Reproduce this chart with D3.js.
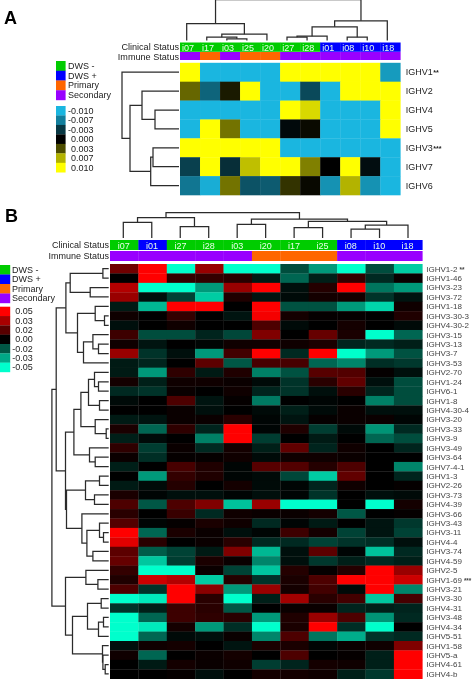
<!DOCTYPE html>
<html><head><meta charset="utf-8">
<script src="https://cdn.jsdelivr.net/npm/d3@7/dist/d3.min.js"></script>
<style>html,body{margin:0;padding:0;background:#fff}svg{display:block;filter:blur(0.35px)}text{font-family:"Liberation Sans",Arial,sans-serif}</style>
</head><body><div id="chart"></div>
<script>
// ---------- Panel A data ----------
const colsA = ["i07","i17","i03","i25","i20","i27","i28","i01","i08","i10","i18"];
const clinicalA = ["DWS -","DWS -","DWS -","DWS -","DWS -","DWS -","DWS -","DWS +","DWS +","DWS +","DWS +"];
const immuneA = ["Secondary","Primary","Secondary","Primary","Primary","Secondary","Secondary","Secondary","Secondary","Secondary","Secondary"];
const rowsA = ["IGHV1","IGHV2","IGHV4","IGHV5","IGHV3","IGHV7","IGHV6"];
const starsA = ["**","","","","***","",""];
// values in thousandths
const heatA = [
 [10,-10,-10,-10,-10,10,10,10,10,10,-8.5],
 [4,-5.5,1,10,-10,-10,-4,-10,10,10,10],
 [-10,-10,-10,-10,-10,10,8.5,-10,-10,-10,10],
 [-10,10,4.5,-10,-10,-.5,.4,-10,-10,-10,10],
 [10,10,10,10,10,-10,-10,-10,-10,-10,-10],
 [-3.5,10,-2.5,7.5,10,10,5,0,10,-.7,-10],
 [-6.5,-9.5,4.5,-4.5,-5,2,.3,-8,7,-8,-10]
];
const legendA = [-10,-7,-3,0,3,7,10];
const legendALabels = ["-0.010","-0.007","-0.003","0.000","0.003","0.007","0.010"];
// dendrograms: [mergeHeight, childA, childB]; leaves are names
const treeTopA = [41,
  [17,"i07",[6.3,[3.3,"i17",[1.7,"i03","i25"]],"i20"]],
  [19.7,[13.7,[4.3,[3.3,"i27","i28"],"i01"],[3.3,"i08","i10"]],"i18"]];
const treeRowA = [57,"IGHV1",
  [49,[37,"IGHV2",[24,"IGHV4","IGHV5"]],
      [28.3,[26,"IGHV3","IGHV7"],"IGHV6"]]];

// ---------- Panel B data ----------
const colsB = ["i07","i01","i27","i28","i03","i20","i17","i25","i08","i10","i18"];
const clinicalB = ["DWS -","DWS +","DWS -","DWS -","DWS -","DWS -","DWS -","DWS -","DWS +","DWS +","DWS +"];
const immuneB = ["Secondary","Secondary","Secondary","Secondary","Secondary","Primary","Primary","Primary","Secondary","Secondary","Secondary"];
const rowsB = ["IGHV1-2","IGHV1-46","IGHV3-23","IGHV3-72","IGHV1-18","IGHV3-30-3","IGHV4-30-2","IGHV3-15","IGHV3-13","IGHV3-7","IGHV3-53",
 "IGHV2-70","IGHV1-24","IGHV6-1","IGHV1-8","IGHV4-30-4","IGHV3-20","IGHV3-33","IGHV3-9","IGHV3-49","IGHV3-64","IGHV7-4-1",
 "IGHV1-3","IGHV2-26","IGHV3-73","IGHV4-39","IGHV3-66","IGHV3-43","IGHV3-11","IGHV4-4","IGHV3-74","IGHV4-59","IGHV2-5",
 "IGHV1-69","IGHV3-21","IGHV3-30","IGHV4-31","IGHV3-48","IGHV4-34","IGHV5-51","IGHV1-58","IGHV5-a","IGHV4-61","IGHV4-b"];
const starsB = {"IGHV1-2":"**","IGHV1-69":"***"};
// values in hundredths
const heatB = [
 [2.2,5,-5,3,-5,-5,-1.5,-3,-5,-1.5,-4],
 [0,5,1,1,.8,-.5,-2,-.6,1,-.8,.2],
 [3.5,-5,-5,-3,3,5,-.3,.7,5,-2.3,-3],
 [3,-.3,-1.3,-4,.6,-.4,-.2,.4,.4,-1,-.4],
 [-.5,-3.6,5,5,0,5,-1.6,-1.6,-3,-4.2,.3],
 [.3,0,1,0,-.4,4.8,.4,.1,.1,0,.6],
 [-.3,0,.3,0,0,1.5,-.2,0,.4,0,-.2],
 [1.2,-1.5,-1.5,-.7,-1.4,2.5,0,2,.5,-5,-2],
 [.3,-.4,0,-.1,.3,.3,.3,.5,-.7,-.8,-.6],
 [3,-1,-.3,-3,1.3,5,-.8,5,-5,-3,-1.6],
 [-.5,-.7,0,1.8,-1.7,1.4,1.4,-2,-2.6,-.9,-1.1],
 [-.5,-3,.9,-.5,.6,-2.5,-1.6,1.7,1.6,.1,-.3],
 [.4,-.6,.3,.3,.2,-.2,-1,.8,1.9,-.3,-1.5],
 [-.8,-1,.2,0,.3,-.7,-1,-.3,.8,-.7,-1.5],
 [-.2,0,1.5,-.4,.1,-2.4,0,-.1,0,-2.5,-1.5],
 [0,0,.2,-.3,0,-.2,-.6,-.2,.2,-.3,-.3],
 [-.5,-.4,.2,.2,.8,-.1,-.4,.1,.2,.2,-.1],
 [.5,-2,.9,-.7,5,-.1,.6,-1.2,-.2,-2.9,-.8],
 [-.6,-.2,0,-2.5,5,-1.2,0,-.5,0,-2,-1.5],
 [.9,-1.2,.2,-.8,.4,-.6,1.9,-.7,.3,0,-.7],
 [.2,-.9,.1,.1,.3,-.2,.3,.3,.2,0,0],
 [-.6,0,1.4,.6,-.1,1.7,1.6,.7,1.5,0,-2.6],
 [0,-3,1,.6,-.1,-.2,-1.4,-4,1.9,0,-.7],
 [-.5,-.2,.7,0,.4,-.2,-.1,-.7,.3,0,.1],
 [.5,-.1,-.3,-.3,-.1,-.3,-.1,-1,0,-.3,-.2],
 [1.5,-1.7,1.5,2.5,-3.8,3,-5,-5,0,-5,.4],
 [.8,0,1.1,-.8,.3,.2,.2,.4,-1.7,0,.1],
 [1.6,-.1,.1,.5,.3,-.8,-.1,-.5,0,-.4,-1.1],
 [5,-2,.5,.2,-.3,-.1,1.2,.4,-1.3,-.4,-1.3],
 [4.4,.8,0,.2,.8,-.8,-.8,-1.3,-1,-.9,-.3],
 [1.8,-1.8,-1.3,-.5,2.5,-3.6,-.3,1.8,-.1,-3.8,-.8],
 [2,-3.9,-1.2,.5,.2,-2.6,-.3,-1.1,-.6,-.8,-.6],
 [1,-5,-5,.2,-1.3,-3.9,.7,.1,.7,5,3],
 [.6,4,3.5,-4,.7,-1,.5,1.5,5,5,4],
 [1.5,-1,5,2.7,-3,3,.4,1.3,-.2,5,-2.6],
 [-5,-4.6,5,.8,-5,-.6,3.2,.8,1.3,-3.9,1.4],
 [-1,-.6,1.2,.8,-1.7,0,.2,.2,-.7,-.6,-.7],
 [-5,-2,1.2,.9,.8,-3,.6,3,1.5,-2.9,-.8],
 [-5,-4.6,.4,-3,-.9,-5,.5,5,-.9,-5,0],
 [-5,-2,-.2,-.3,.2,-2.6,1.5,-2.3,-3.4,-1,-.8],
 [-.3,.3,.4,0,-.4,.5,.5,-.1,.2,.3,2.5],
 [.3,-2,0,.2,.4,0,1.5,0,.1,-.6,5],
 [0,-.5,.4,.2,.3,-1.2,-.7,.4,.3,-.6,5],
 [0,0,.1,-.3,0,.4,.4,.3,-.6,-1.1,5]
];
const legendB = [5,3.3,1.7,0,-1.7,-3.3,-5];
const legendBLabels = ["0.05","0.03","0.02","0.00","-0.02","-0.03","-0.05"];
const treeTopB = [25.3,
  [20.3,[15.7,"i07","i01"],[11.3,"i27","i28"]],
  [19,[13.7,"i03","i20"],
      [16.7,[10.3,"i17","i25"],[13,[9,"i08","i10"],"i18"]]]];
// row dendrogram of B: leaves are row indices into rowsB
const treeRowB = [56.8,
  [52.5,
    [42.8,
      [38.5,[5.8,0,1],[18.5,2,3]],
      [31.2,[13.5,4,[4.2,5,6]],[25.2,[15.8,7,[10.2,8,9]],10]]],
    [43.2,
      [34.8,
        [27.8,
          [20.2,[14.2,11,[10.2,12,13]],[9.2,14,15]],
          [13.5,16,[2.5,17,18]]],
        [19.2,19,[13.5,20,21]]],
      [42.2,
        [23.2,[9.2,22,23],[14.2,24,25]],
        [26.8,26,[21.8,[9.2,27,[5.2,28,29]],[15.8,30,31]]]]]],
  [43.2,
    [22.8,32,[10.8,33,34]],
    [36.2,
      [21.2,[7.5,35,36],[10.2,[5.2,37,38],39]],
      [6.2,40,[5.8,41,[3.5,42,43]]]]]];

// ---------- Shared ----------
const statusColor = d3.scaleOrdinal()
  .domain(["DWS -","DWS +","Primary","Secondary"])
  .range(["#00cc00","#0000ff","#ff6600","#9900ff"]);
const statusNames = statusColor.domain();
const colorA = d3.scaleLinear().domain([-10,0,10]).range(["#1ab6e0","#000000","#ffff00"]);
const colorB = d3.scaleLinear().domain([-5,0,5]).range(["#00ffcc","#000000","#ff0000"]);

const svg = d3.select("#chart").append("svg").attr("width",473).attr("height",680);
const TEXT = "#222";

function dendroPaths(g, tree, leafPos, heightPos, horizontal, leafEdge){
  const root = d3.hierarchy(tree, d => Array.isArray(d) ? d.slice(1) : null);
  root.eachAfter(n => {
    if (n.children){ n.p = (n.children[0].p + n.children[1].p)/2; n.h = heightPos(n.data[0]); }
    else { n.p = leafPos(n.data); n.h = leafEdge; }
  });
  const seg = [];
  root.descendants().filter(n=>n.children).forEach(n=>{
    const [a,b] = n.children;
    seg.push([[a.h,a.p],[n.h,a.p],[n.h,b.p],[b.h,b.p]]);
  });
  const line = horizontal ? d3.line() : d3.line().x(d=>d[1]).y(d=>d[0]);
  g.selectAll("path").data(seg).join("path")
    .attr("d", line).attr("fill","none").attr("stroke","#2b2b2b").attr("stroke-width",1.25);
}

function panel(cfg){
  const g = svg.append("g");
  const x = d3.scaleBand().domain(cfg.cols).range([cfg.x0,cfg.x1]);
  const y = d3.scaleBand().domain(cfg.rows).range([cfg.y0,cfg.y1]);
  // heat cells
  g.append("g").selectAll("g").data(cfg.heat).join("g")
   .each(function(row,i){
     d3.select(this).selectAll("rect").data(row).join("rect")
       .attr("x",(d,j)=>x(cfg.cols[j])).attr("y",y(cfg.rows[i]))
       .attr("width",x.bandwidth()+.3).attr("height",y.bandwidth()+.3)
       .attr("fill",d=>cfg.color(d));
   });
  // status bars
  [[cfg.clinical,cfg.clinY,cfg.clinH],[cfg.immune,cfg.immY,cfg.immH]].forEach(([vals,yy,hh])=>{
    g.append("g").selectAll("rect").data(vals).join("rect")
      .attr("x",(d,j)=>x(cfg.cols[j])).attr("y",yy)
      .attr("width",x.bandwidth()+.3).attr("height",hh)
      .attr("fill",d=>statusColor(d));
  });
  // column labels
  g.append("g").selectAll("text").data(cfg.cols).join("text")
    .attr("x",d=>x(d)+x.bandwidth()/2+cfg.labDx).attr("y",cfg.clinY+cfg.clinH-1.3)
    .attr("text-anchor","middle").attr("font-size",cfg.colFont).attr("fill","#e8ffe8").text(d=>d);
  // status titles
  g.append("text").attr("x",cfg.x0-1).attr("y",cfg.clinTitleY).attr("text-anchor","end")
    .attr("font-size",cfg.titleFont).attr("fill",TEXT).text("Clinical Status");
  g.append("text").attr("x",cfg.x0-1).attr("y",cfg.immTitleY).attr("text-anchor","end")
    .attr("font-size",cfg.titleFont).attr("fill",TEXT).text("Immune Status");
  // row labels
  const labs = g.append("g").selectAll("text").data(cfg.rows).join("text")
    .attr("x",cfg.labX).attr("y",d=>y(d)+y.bandwidth()/2+cfg.rowFont*.36)
    .attr("font-size",cfg.rowFont).attr("fill",cfg.rowFill);
  labs.append("tspan").text(d=>d);
  labs.append("tspan").attr("dx",cfg.starDx).attr("font-weight","bold").attr("font-size",cfg.rowFont*.8)
    .text(d=>cfg.star(d));
  // dendrograms
  const topLeaf = d3.scalePoint().domain(cfg.cols).range(cfg.topRange);
  const topH = d3.scaleLinear().domain([0,cfg.topMax]).range([cfg.topBase,cfg.topBase-cfg.topMax]);
  dendroPaths(g.append("g"),cfg.treeTop,d=>topLeaf(d),topH,false,cfg.topBase);
  const rowH = d3.scaleLinear().domain([0,cfg.rowMax]).range([cfg.rowBase,cfg.rowBase-cfg.rowMax]);
  dendroPaths(g.append("g"),cfg.treeRow,d=>y(cfg.leafName(d))+y.bandwidth()/2,rowH,true,cfg.rowBase);
  // legends
  const lg = g.append("g");
  const sh = (cfg.sw1-cfg.sw0)/4;
  lg.selectAll("rect.st").data(statusNames).join("rect").attr("class","st")
    .attr("x",cfg.lx).attr("y",(d,i)=>cfg.sw0+i*sh).attr("width",cfg.lw).attr("height",sh+.2).attr("fill",d=>statusColor(d));
  lg.selectAll("text.st").data(statusNames).join("text").attr("class","st")
    .attr("x",cfg.lx+cfg.lw+cfg.ltx).attr("y",(d,i)=>cfg.sw0+i*sh+sh/2+3.1)
    .attr("font-size",cfg.legFont).attr("fill",TEXT).text(d=>d);
  const ch = (cfg.cw1-cfg.cw0)/cfg.legend.length;
  lg.selectAll("rect.cs").data(cfg.legend).join("rect").attr("class","cs")
    .attr("x",cfg.lx).attr("y",(d,i)=>cfg.cw0+i*ch).attr("width",cfg.lw).attr("height",ch+.2).attr("fill",d=>cfg.color(d));
  lg.selectAll("text.cs").data(cfg.legendLabels).join("text").attr("class","cs")
    .attr("x",cfg.lx+cfg.lw+cfg.ctx).attr("y",(d,i)=>cfg.cw0+i*ch+ch/2+3.1).attr("text-anchor","end")
    .attr("font-size",cfg.legFont).attr("fill",TEXT).text(d=>d);
  // letter
  g.append("text").attr("x",cfg.letter[1]).attr("y",cfg.letter[2]).attr("font-size",18).attr("font-weight","bold")
    .attr("fill","#000").text(cfg.letter[0]);
}

panel({cols:colsA,rows:rowsA,heat:heatA,clinical:clinicalA,immune:immuneA,color:colorA,
  x0:180,x1:400.3,y0:62.8,y1:195,clinY:42.5,clinH:9.3,immY:52,immH:8,labDx:-2,colFont:9,titleFont:9.1,
  clinTitleY:49.5,immTitleY:60.3,
  labX:405.7,rowFont:9,rowFill:"#222",starDx:.5,star:d=>starsA[rowsA.indexOf(d)],
  treeTop:treeTopA,treeRow:treeRowA,leafName:d=>d,topRange:[186.7,387.3],topMax:41,topBase:40.5,rowMax:57,rowBase:179,
  lx:56,lw:9.6,sw0:61,sw1:100,cw0:106,cw1:172.3,ltx:2.4,ctx:28,legFont:9,
  legend:legendA,legendLabels:legendALabels,letter:["A",4,24]});

panel({cols:colsB,rows:rowsB,heat:heatB,clinical:clinicalB,immune:immuneB,color:colorB,
  x0:110,x1:422.3,y0:264,y1:678.7,clinY:240,clinH:10,immY:251,immH:10,labDx:-.5,colFont:9,titleFont:9,
  clinTitleY:247.5,immTitleY:258.5,
  labX:426.3,rowFont:8,rowFill:"#444",starDx:2,star:d=>starsB[d]||"",
  treeTop:treeTopB,treeRow:treeRowB,leafName:d=>rowsB[d],topRange:[123.3,408],topMax:25.3,topBase:238,rowMax:57,rowBase:108.7,
  lx:0,lw:10.2,sw0:265,sw1:303,cw0:306.7,cw1:372,ltx:1.8,ctx:22.5,legFont:9,
  legend:legendB,legendLabels:legendBLabels,letter:["B",5,222]});
</script></body></html>
